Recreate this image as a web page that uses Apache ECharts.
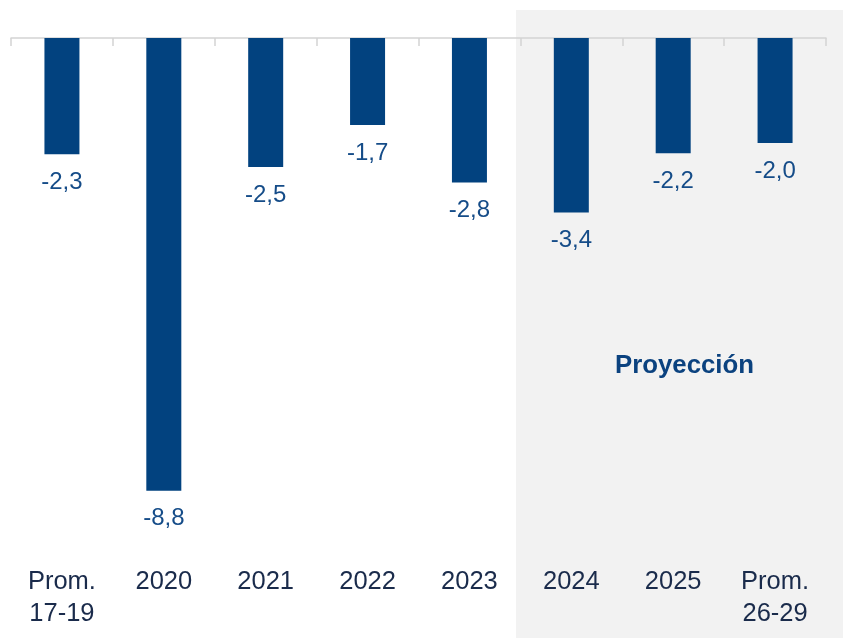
<!DOCTYPE html>
<html>
<head>
<meta charset="utf-8">
<script src="https://cdn.jsdelivr.net/npm/echarts@6/dist/echarts.min.js"></script>
<style>
html,body{margin:0;padding:0;background:#fff;}
#chart{width:843px;height:638px;}
</style>
</head>
<body>
<div id="chart"></div>
<script>
const categories = ["Prom.\n17-19", "2020", "2021", "2022", "2023", "2024", "2025", "Prom.\n26-29"];
const values = [-2.26, -8.8, -2.51, -1.69, -2.81, -3.39, -2.24, -2.04];
const projectionLabel = "Proyección";

const FONT = '"Liberation Sans", Arial, sans-serif';
const chart = echarts.init(document.getElementById('chart'), null, {renderer: 'canvas'});

const option = {
  backgroundColor: '#ffffff',
  animation: false,
  grid: {left: 11, right: 17, top: 38, height: 514.4, containLabel: false},
  graphic: [
    {type: 'rect', z: -10, shape: {x: 516, y: 10, width: 327, height: 628}, style: {fill: '#f2f2f2'}},
    {type: 'text', z: 10, x: 684.5, y: 366, style: {text: projectionLabel, fill: '#0b427f', font: 'bold 25.8px ' + FONT, align: 'center', verticalAlign: 'middle'}}
  ],
  xAxis: [
    {
      type: 'category', data: categories, position: 'top',
      axisLine: {show: true, lineStyle: {color: '#d4d4d4', width: 1.5}},
      axisTick: {show: true, inside: true, length: 8, lineStyle: {color: '#d4d4d4', width: 1.5}},
      axisLabel: {show: false}, splitLine: {show: false}
    },
    {
      type: 'category', data: categories, position: 'bottom',
      axisLine: {show: false}, axisTick: {show: false}, splitLine: {show: false},
      axisLabel: {show: true, interval: 0, margin: 14, fontSize: 25.5, lineHeight: 32, color: '#1a2b4b', fontFamily: FONT, align: 'center'}
    }
  ],
  yAxis: {type: 'value', min: -10, max: 0, show: false, splitLine: {show: false}},
  series: [{
    type: 'bar', xAxisIndex: 0, data: values, barWidth: 35,
    itemStyle: {color: '#02427f'},
    label: {
      show: true, position: 'outside', distance: 16,
      fontSize: 24, color: '#154c88', fontFamily: FONT,
      formatter: p => p.value.toFixed(1).replace('.', ',')
    }
  }]
};
chart.setOption(option);
</script>
</body>
</html>
